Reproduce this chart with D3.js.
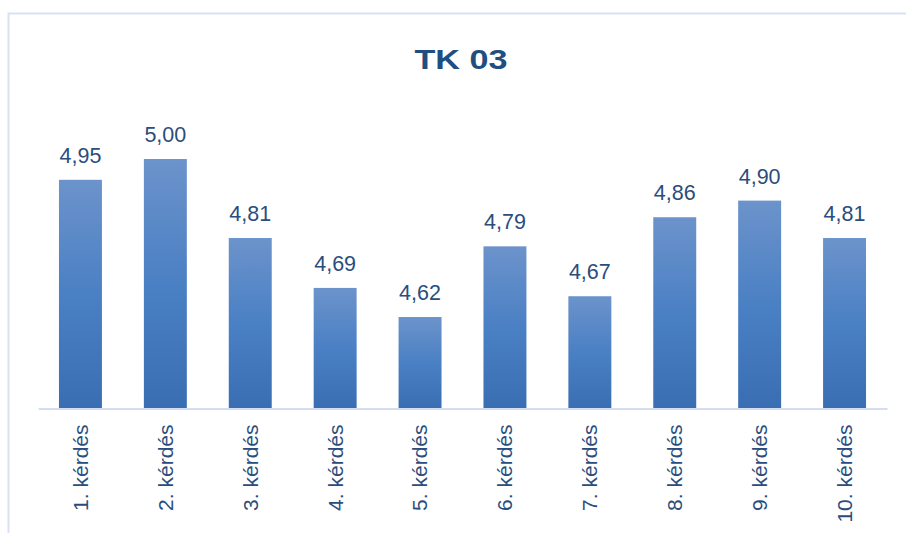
<!DOCTYPE html>
<html><head><meta charset="utf-8">
<script src="https://cdn.jsdelivr.net/npm/d3@7"></script>
<style>body{margin:0;background:#fff}svg{display:block}</style>
</head><body>
<script>
const categories = ["1. kérdés","2. kérdés","3. kérdés","4. kérdés","5. kérdés","6. kérdés","7. kérdés","8. kérdés","9. kérdés","10. kérdés"];
const values = [4.95, 5.00, 4.81, 4.69, 4.62, 4.79, 4.67, 4.86, 4.90, 4.81];
const yDomain = [4.4, 5.1];
const title = "TK 03";

const W = 906, H = 533;
const svg = d3.select("body").append("svg").attr("width", W).attr("height", H);

const defs = svg.append("defs");
const g = defs.append("linearGradient").attr("id","barGrad").attr("x1",0).attr("y1",0).attr("x2",0).attr("y2",1);
g.append("stop").attr("offset","0%").attr("stop-color","#6c93cb");
g.append("stop").attr("offset","50%").attr("stop-color","#4a80c4");
g.append("stop").attr("offset","100%").attr("stop-color","#3a6eb3");

// chart border
svg.append("rect").attr("x",8.5).attr("y",13.5).attr("width",W+10).attr("height",H+10)
  .attr("fill","none").attr("stroke","#d9e2f1").attr("stroke-width",2);

const left = 38, right = 887, baseY = 408.5;
const x = d3.scaleBand().domain(categories).range([left, right]).paddingInner(0.494).paddingOuter(0.247);
const y = d3.scaleLinear().domain(yDomain).range([baseY, baseY - 0.7*415.8]);

svg.append("g").selectAll("rect").data(values).join("rect")
  .attr("x",(d,i)=>x(categories[i]))
  .attr("y",d=>y(d))
  .attr("width",x.bandwidth())
  .attr("height",d=>baseY - y(d))
  .attr("fill","url(#barGrad)");

// axis
const axis = d3.axisBottom(x).tickSize(0).tickPadding(0);
const ax = svg.append("g").attr("transform",`translate(0,${baseY})`).call(axis);
ax.select(".domain").attr("stroke","#d4def0").attr("stroke-width",2);
ax.selectAll(".tick text")
  .attr("transform","rotate(-90)")
  .attr("x",-16).attr("y",0).attr("dy","0.35em")
  .attr("text-anchor","end")
  .attr("font-family","'Liberation Sans', Arial, sans-serif")
  .attr("font-size",21).attr("fill","#2a4d7d");

// data labels
svg.append("g").selectAll("text").data(values).join("text")
  .attr("x",(d,i)=>x(categories[i]) + x.bandwidth()/2)
  .attr("y",d=>y(d) - 17)
  .attr("text-anchor","middle")
  .attr("font-family","'Liberation Sans', Arial, sans-serif")
  .attr("font-size",21.5).attr("fill","#2a4d7d")
  .text(d=>d.toFixed(2).replace(".",","));

// title
svg.append("text").attr("x",461).attr("y",69).attr("text-anchor","middle")
  .attr("font-family","'Liberation Sans', Arial, sans-serif").attr("font-weight","bold")
  .attr("font-size",27).attr("fill","#1f4e7f")
  .attr("textLength",93).attr("lengthAdjust","spacingAndGlyphs")
  .text(title);
</script>
</body></html>
